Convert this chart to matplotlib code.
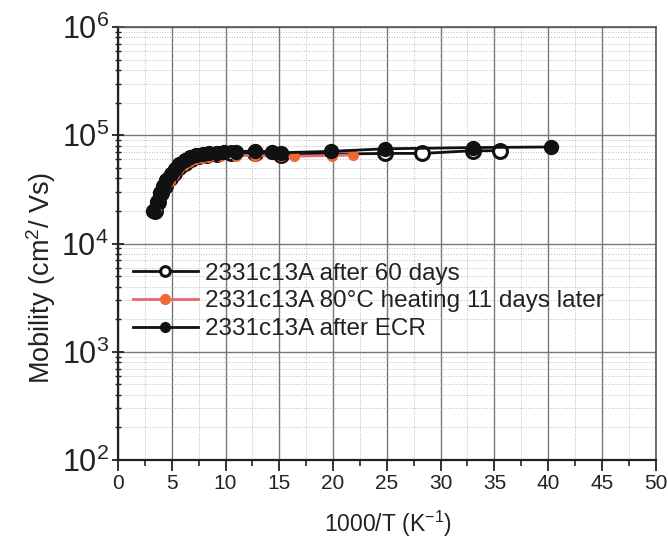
import matplotlib
matplotlib.use("Agg")
import matplotlib.pyplot as plt
from matplotlib.ticker import LogLocator, MultipleLocator, NullFormatter

plt.rcParams['font.family'] = ['Liberation Sans', 'DejaVu Sans']
plt.rcParams['mathtext.fontset'] = 'custom'
plt.rcParams['mathtext.rm'] = 'Liberation Sans'

# Data
x_60days = [3.4, 3.7, 4.0, 4.4, 4.8, 5.2, 5.7, 6.2, 6.8, 7.5, 8.3, 9.2, 10.5, 12.7, 15.2, 24.8, 28.3, 33.0, 35.5]
y_60days = [2.0e4, 2.4e4, 2.9e4, 3.4e4, 4.0e4, 4.5e4, 5.1e4, 5.6e4, 6.1e4, 6.4e4, 6.6e4, 6.7e4, 6.8e4, 6.8e4, 6.6e4, 6.8e4, 6.8e4, 7.2e4, 7.2e4]

x_heat = [3.5, 3.8, 4.1, 4.4, 4.8, 5.2, 5.6, 6.1, 6.6, 7.2, 7.8, 8.5, 9.5, 11.0, 12.7, 15.2, 16.4, 19.9, 21.9]
y_heat = [2.1e4, 2.5e4, 2.9e4, 3.3e4, 3.8e4, 4.3e4, 4.8e4, 5.3e4, 5.7e4, 6.0e4, 6.2e4, 6.3e4, 6.4e4, 6.5e4, 6.5e4, 6.4e4, 6.4e4, 6.5e4, 6.6e4]

x_ecr = [3.3, 3.6, 3.9, 4.2, 4.5, 4.9, 5.3, 5.7, 6.2, 6.7, 7.3, 7.9, 8.5, 9.2, 9.9, 11.0, 12.7, 14.3, 15.2, 19.8, 24.8, 33.0, 40.3]
y_ecr = [2.0e4, 2.4e4, 2.9e4, 3.4e4, 3.9e4, 4.4e4, 4.9e4, 5.4e4, 5.9e4, 6.3e4, 6.6e4, 6.7e4, 6.8e4, 6.9e4, 7.0e4, 7.0e4, 7.2e4, 7.0e4, 6.9e4, 7.1e4, 7.5e4, 7.7e4, 7.8e4]

labels = ['2331c13A after 60 days', '2331c13A 80°C heating 11 days later', '2331c13A after ECR']

fig = plt.figure(figsize=(6.68, 5.40), dpi=100)
ax = fig.add_axes([0.1766, 0.148, 0.805, 0.802])

ax.plot(x_60days, y_60days, '-o', color='#111111', lw=2.0, ms=10, mfc='white',
        mec='#111111', mew=2.2, label=labels[0], zorder=3)
ax.plot(x_heat, y_heat, '-o', color='#e86a70', lw=2.0, ms=7, mfc='#f06a30',
        mec='#f06a30', mew=1.0, label=labels[1], zorder=4)
ax.plot(x_ecr, y_ecr, '-o', color='#111111', lw=2.0, ms=10, mfc='#111111',
        mec='#111111', label=labels[2], zorder=5)

ax.set_yscale('log')
ax.set_xlim(0, 50)
ax.set_ylim(1e2, 1e6)
ax.xaxis.set_major_locator(MultipleLocator(5))
ax.xaxis.set_minor_locator(MultipleLocator(2.5))
ax.yaxis.set_major_locator(LogLocator(base=10, numticks=10))
ax.yaxis.set_minor_locator(LogLocator(base=10, subs=range(2, 10), numticks=20))
ax.yaxis.set_minor_formatter(NullFormatter())

ax.grid(which='major', color='#777777', lw=1.0, ls='-')
ax.grid(which='minor', color='#bbbbbb', lw=0.7, ls=':')
ax.set_axisbelow(True)

ax.tick_params(axis='y', which='major', labelsize=22, direction='inout', length=9, width=1.3, colors='#222222', pad=2)
ax.tick_params(axis='y', which='minor', direction='inout', length=5, width=1.0, colors='#222222')
ax.tick_params(axis='x', which='major', labelsize=15, direction='out', length=8, width=1.3, colors='#222222', pad=2)
ax.tick_params(axis='x', which='minor', direction='out', length=4, width=1.2, colors='#222222')
for lab in ax.get_xticklabels() + ax.get_yticklabels():
    lab.set_color('#222222')

for s in ['left', 'bottom']:
    ax.spines[s].set_linewidth(1.6)
    ax.spines[s].set_color('#222222')
for s in ['top', 'right']:
    ax.spines[s].set_linewidth(1.2)
    ax.spines[s].set_color('#555555')

ax.set_xlabel('1000/T (K$^{-1}$)', fontsize=16.5, color='#222222')
ax.set_ylabel('Mobility (cm$^{2}$/ Vs)', fontsize=19.5, color='#222222')
ax.xaxis.set_label_coords(0.502, -0.112)
ax.yaxis.set_label_coords(-0.112, 0.42)

leg = ax.legend(loc='upper left', bbox_to_anchor=(0.028, 0.456), frameon=False,
                fontsize=17.5, handlelength=2.67, handletextpad=0.3, labelspacing=0.24,
                borderpad=0.0, borderaxespad=0.0)
for t in leg.get_texts():
    t.set_color('#222222')
leg.legend_handles[0].set_markersize(7)
leg.legend_handles[2].set_markersize(7)

fig.savefig('out.png', dpi=100)
